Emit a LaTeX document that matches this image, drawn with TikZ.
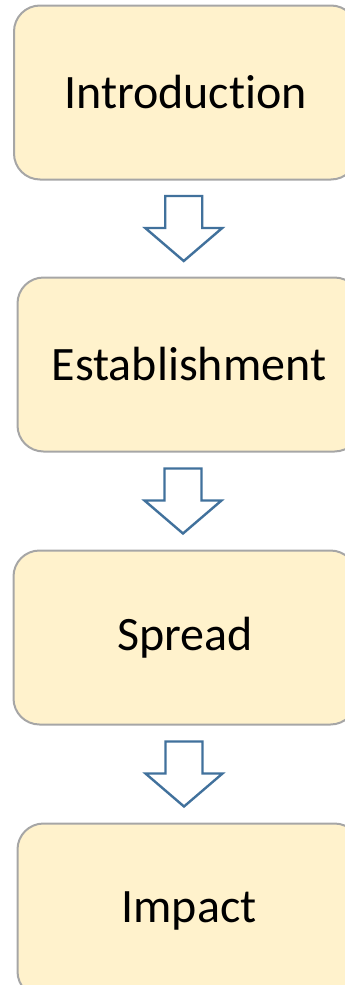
\documentclass[tikz,border=0pt]{standalone}
\usepackage{fontspec}
\setmainfont{Carlito}[Ligatures=NoCommon]
\usetikzlibrary{positioning, calc}

\definecolor{stagefill}{HTML}{FFF2CC}
\definecolor{stageline}{HTML}{A6A6A6}
\definecolor{arrowline}{HTML}{41719C}

\begin{document}
\begin{tikzpicture}[
    x=1pt, y=1pt,
    stage/.style={rectangle, draw=stageline, fill=stagefill, line width=2pt,
        rounded corners=26pt, minimum width=343pt, minimum height=174pt,
        font=\fontsize{48}{58}\selectfont},
    blockarrow/.style={draw=arrowline, fill=white, line width=2.4pt, line join=miter}
]
\useasboundingbox (0,0) rectangle (345,-985);
\clip (0,0) rectangle (345,-985);
\node[stage] (intro) at (185.5,-92.5) {Introduction};
\node[stage, below=96pt of intro, xshift=3.5pt] (estab) {Establishment};
\node[stage, below=97pt of estab, xshift=-4pt] (spread) {Spread};
\node[stage, below=97pt of spread, xshift=4pt] (impact) {Impact};
% hollow block arrows between the stages
\coordinate (m1) at ($(intro.south)!0.5!(estab.north)$);
\coordinate (m2) at ($(estab.south)!0.5!(spread.north)$);
\coordinate (m3) at ($(spread.south)!0.5!(impact.north)$);
\draw[blockarrow] ([xshift=-22pt,yshift=32.5pt]m1) -- ++(37,0) -- ++(0,-32) -- ++(20,0)
    -- ++(-38.5,-33) -- ++(-38.5,33) -- ++(20,0) -- cycle;
\draw[blockarrow] ([xshift=-22.5pt,yshift=32.5pt]m2) -- ++(37,0) -- ++(0,-32) -- ++(20,0)
    -- ++(-38.5,-33) -- ++(-38.5,33) -- ++(20,0) -- cycle;
\draw[blockarrow] ([xshift=-21.5pt,yshift=32.5pt]m3) -- ++(37,0) -- ++(0,-32) -- ++(20,0)
    -- ++(-38.5,-33) -- ++(-38.5,33) -- ++(20,0) -- cycle;
\end{tikzpicture}
\end{document}
